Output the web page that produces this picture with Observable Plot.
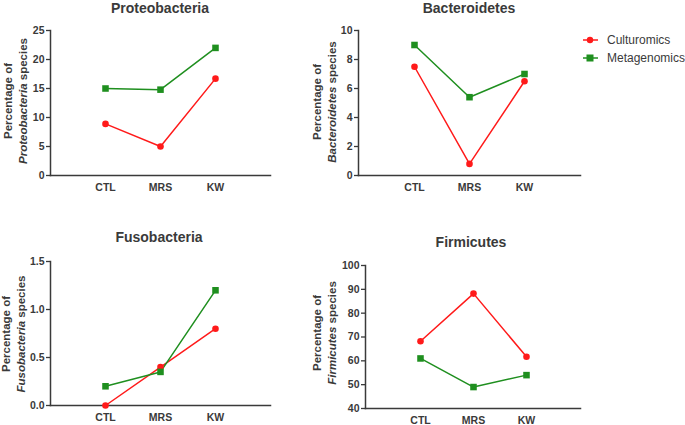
<!DOCTYPE html>
<html>
<head>
<meta charset="utf-8">
<script src="https://cdn.jsdelivr.net/npm/d3@7"></script>
<script src="https://cdn.jsdelivr.net/npm/@observablehq/plot@0.6"></script>
<style>
  html, body { margin: 0; padding: 0; background: #fff; }
  #root { position: relative; width: 685px; height: 425px; overflow: hidden; font-family: "Liberation Sans", Arial, sans-serif; color: #3a3a3a; }
  .panel { position: absolute; }
  .title { position: absolute; font-weight: bold; font-size: 14px; transform: translate(-50%, -50%); white-space: nowrap; }
  .ylab { position: absolute; font-weight: bold; font-size: 11.5px; line-height: 15px; text-align: center; white-space: nowrap; transform: translate(-50%, -50%) rotate(-90deg); }
  .legend { position: absolute; font-size: 12px; color: #3a3a3a; }
  .legend div { display: flex; align-items: center; height: 18px; }
  .legend svg { margin-right: 9px; }
</style>
</head>
<body>
<div id="root"></div>
<script>
// ---- data ----
const categories = ["CTL", "MRS", "KW"];
const seriesNames = ["Culturomics", "Metagenomics"];

const proteoCulturomics = [8.9, 5.0, 16.7];
const proteoMetagenomics = [15.0, 14.8, 22.0];
const bacteroCulturomics = [7.5, 0.8, 6.5];
const bacteroMetagenomics = [9.0, 5.4, 7.0];
const fusoCulturomics = [0.0, 0.4, 0.8];
const fusoMetagenomics = [0.2, 0.35, 1.2];
const firmCulturomics = [68.2, 88.2, 61.7];
const firmMetagenomics = [61.0, 49.0, 54.0];

const proteoTicks = [0, 5, 10, 15, 20, 25];
const bacteroTicks = [0, 2, 4, 6, 8, 10];
const fusoTicks = [0, 0.5, 1.0, 1.5];
const firmTicks = [40, 50, 60, 70, 80, 90, 100];

const colors = ["#ff1a1a", "#1f8f1f"];
const axisColor = "#3a3a3a";

function rows(cult, meta) {
  const out = [];
  categories.forEach((c, i) => out.push({cat: c, v: cult[i], s: seriesNames[0]}));
  categories.forEach((c, i) => out.push({cat: c, v: meta[i], s: seriesNames[1]}));
  return out;
}

const root = document.getElementById("root");

function panel(cfg) {
  const data = rows(cfg.cult, cfg.meta);
  const chart = Plot.plot({
    width: cfg.w, height: cfg.h,
    marginLeft: cfg.ml, marginRight: cfg.mr, marginTop: cfg.mt, marginBottom: cfg.mb,
    style: {background: "transparent", color: axisColor, fontFamily: "'Liberation Sans', Arial, sans-serif", fontWeight: "bold", fontSize: "10.5px", overflow: "visible"},
    x: {type: "point", domain: categories, padding: 1},
    y: {domain: cfg.domain},
    color: {domain: seriesNames, range: colors},
    marks: [
      Plot.axisY({ticks: cfg.ticks, tickSize: 4, tickPadding: 2, tickFormat: cfg.fmt, label: null, strokeWidth: 1.3}),
      Plot.axisX({ticks: categories, tickSize: 0, tickPadding: 8, label: null}),
      Plot.frame({anchor: "left", stroke: axisColor, strokeWidth: 1.5}),
      Plot.frame({anchor: "bottom", stroke: axisColor, strokeWidth: 1.5}),
      Plot.line(data, {x: "cat", y: "v", z: "s", stroke: "s", strokeWidth: 1.5}),
      Plot.dot(data.filter(d => d.s === seriesNames[0]), {x: "cat", y: "v", fill: "s", r: 3.3, symbol: "circle"}),
      Plot.dot(data.filter(d => d.s === seriesNames[1]), {x: "cat", y: "v", fill: "s", r: 3.7, symbol: "square"})
    ]
  });
  const wrap = document.createElement("div");
  wrap.className = "panel";
  wrap.style.left = cfg.left + "px";
  wrap.style.top = cfg.top + "px";
  wrap.appendChild(chart);
  root.appendChild(wrap);

  const t = document.createElement("div");
  t.className = "title";
  t.textContent = cfg.title;
  t.style.left = cfg.tx + "px";
  t.style.top = cfg.ty + "px";
  root.appendChild(t);

  const yl = document.createElement("div");
  yl.className = "ylab";
  yl.innerHTML = "Percentage of<br><i>" + cfg.title + "</i> species";
  yl.style.left = cfg.lx + "px";
  yl.style.top = cfg.ly + "px";
  root.appendChild(yl);
}

panel({title: "Proteobacteria", cult: proteoCulturomics, meta: proteoMetagenomics, domain: [0, 25], ticks: proteoTicks, fmt: d3.format("d"),
  left: 0, top: 0, w: 300, h: 200, ml: 50, mr: 30, mt: 30, mb: 25, tx: 160, ty: 8, lx: 16, ly: 101});
panel({title: "Bacteroidetes", cult: bacteroCulturomics, meta: bacteroMetagenomics, domain: [0, 10], ticks: bacteroTicks, fmt: d3.format("d"),
  left: 300, top: 0, w: 300, h: 200, ml: 58, mr: 20, mt: 30, mb: 25, tx: 469, ty: 8, lx: 325, ly: 102});
panel({title: "Fusobacteria", cult: fusoCulturomics, meta: fusoMetagenomics, domain: [0, 1.5], ticks: fusoTicks, fmt: d3.format(".1f"),
  left: 0, top: 200, w: 300, h: 225, ml: 50, mr: 30, mt: 61, mb: 20, tx: 159, ty: 237, lx: 14, ly: 334});
panel({title: "Firmicutes", cult: firmCulturomics, meta: firmMetagenomics, domain: [40, 100], ticks: firmTicks, fmt: d3.format("d"),
  left: 300, top: 200, w: 300, h: 225, ml: 65, mr: 20, mt: 65, mb: 17, tx: 471, ty: 242, lx: 325, ly: 333});

// legend
const leg = document.createElement("div");
leg.className = "legend";
leg.style.left = "583px";
leg.style.top = "31px";
seriesNames.forEach((name, i) => {
  const row = document.createElement("div");
  const sym = i === 0
    ? '<circle cx="7" cy="5" r="3.2" fill="' + colors[i] + '"/>'
    : '<rect x="3.5" y="1.5" width="7" height="7" fill="' + colors[i] + '"/>';
  row.innerHTML = '<svg width="15" height="10"><line x1="0" x2="15" y1="5" y2="5" stroke="' + colors[i] + '" stroke-width="1.5"/>' + sym + '</svg><span>' + name + '</span>';
  leg.appendChild(row);
});
root.appendChild(leg);
</script>
</body>
</html>
